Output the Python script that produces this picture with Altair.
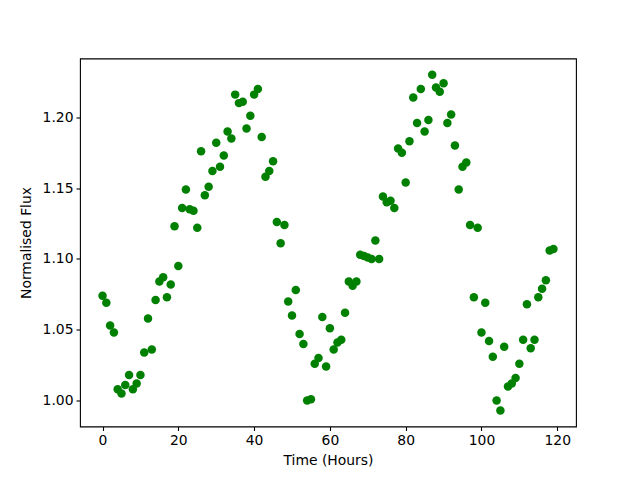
import altair as alt
import pandas as pd

hours = [0, 1, 2, 3, 4, 5, 6, 7, 8, 9, 10, 11, 12, 13, 14, 15, 16, 17, 18, 19,
         20, 21, 22, 23, 24, 25, 26, 27, 28, 29, 30, 31, 32, 33, 34, 35, 36, 37, 38, 39,
         40, 41, 42, 43, 44, 45, 46, 47, 48, 49, 50, 51, 52, 53, 54, 55, 56, 57, 58, 59,
         60, 61, 62, 63, 64, 65, 66, 67, 68, 69, 70, 71, 72, 73, 74, 75, 76, 77, 78, 79,
         80, 81, 82, 83, 84, 85, 86, 87, 88, 89, 90, 91, 92, 93, 94, 95, 96, 97, 98, 99,
         100, 101, 102, 103, 104, 105, 106, 107, 108, 109, 110, 111, 112, 113, 114, 115,
         116, 117, 118, 119]

flux = [1.074, 1.069, 1.053, 1.048, 1.008, 1.005, 1.011, 1.018, 1.008, 1.012,
        1.018, 1.034, 1.058, 1.036, 1.071, 1.084, 1.087, 1.073, 1.082, 1.123,
        1.095, 1.136, 1.149, 1.135, 1.134, 1.122, 1.176, 1.145, 1.151, 1.162,
        1.182, 1.165, 1.173, 1.190, 1.185, 1.216, 1.210, 1.211, 1.192, 1.201,
        1.216, 1.220, 1.186, 1.158, 1.162, 1.169, 1.126, 1.111, 1.124, 1.070,
        1.060, 1.078, 1.047, 1.040, 1.000, 1.001, 1.026, 1.030, 1.059, 1.024,
        1.051, 1.036, 1.041, 1.043, 1.062, 1.084, 1.081, 1.084, 1.103, 1.102,
        1.101, 1.100, 1.113, 1.100, 1.144, 1.140, 1.141, 1.136, 1.178, 1.175,
        1.154, 1.183, 1.214, 1.196, 1.220, 1.190, 1.198, 1.230, 1.221, 1.218,
        1.224, 1.196, 1.202, 1.180, 1.149, 1.165, 1.168, 1.124, 1.073, 1.122,
        1.048, 1.069, 1.042, 1.031, 1.000, 0.993, 1.038, 1.010, 1.012, 1.016,
        1.026, 1.043, 1.068, 1.037, 1.043, 1.073, 1.079, 1.085, 1.106, 1.107]

x_ticks = [0, 20, 40, 60, 80, 100, 120]
y_ticks = [1.00, 1.05, 1.10, 1.15, 1.20]

df = pd.DataFrame({"hours": hours, "flux": flux})

FONT = "DejaVu Sans"
FS = 13.9

axis_common = dict(
    grid=False,
    domain=False,
    tickColor="black",
    tickWidth=1.1,
    tickSize=4,
    labelColor="black",
    labelFont=FONT,
    labelFontSize=FS,
    titleFont=FONT,
    titleFontSize=FS,
    titleFontWeight="normal",
    titleColor="black",
    labelPadding=3,
)

chart = alt.Chart(df).mark_point(
    filled=True, shape="circle", size=72, color="#008000", opacity=1
).encode(
    x=alt.X(
        "hours:Q",
        title="Time (Hours)",
        scale=alt.Scale(domain=[-5.95, 124.95], nice=False, zero=False),
        axis=alt.Axis(values=x_ticks, format="d", titlePadding=6, **axis_common),
    ),
    y=alt.Y(
        "flux:Q",
        title="Normalised Flux",
        scale=alt.Scale(domain=[0.9817, 1.2415], nice=False, zero=False),
        axis=alt.Axis(values=y_ticks, format=".2f", titlePadding=9, **axis_common),
    ),
).properties(
    width=496,
    height=368,
    autosize=alt.AutoSizeParams(type="none"),
    padding={"left": 72, "top": 50.5, "right": 56, "bottom": 46},
).configure_view(
    stroke="black",
    strokeWidth=1.1,
)

chart.save("out.html", embed_options={"renderer": "svg", "actions": False})
